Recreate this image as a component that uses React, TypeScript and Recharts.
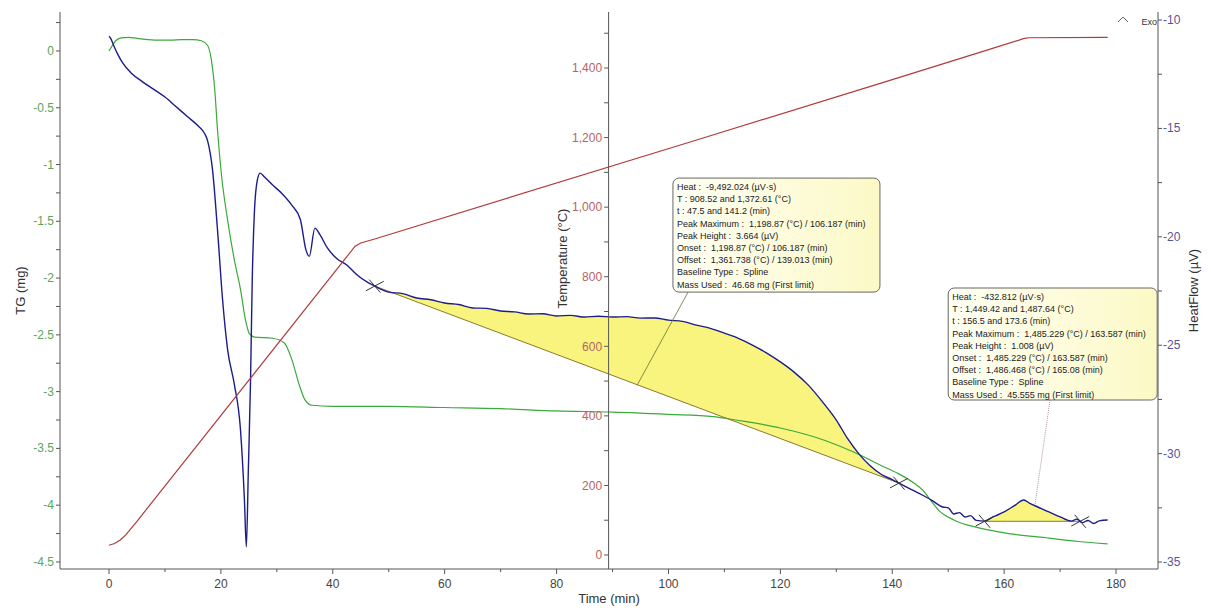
import React from 'react';
import { ComposedChart, Line, Area, XAxis, YAxis, ReferenceLine, ReferenceDot } from 'recharts';

// ---------- ticks ----------
const TIME_TICKS = [0, 10, 20, 30, 40, 50, 60, 70, 80, 90, 100, 110, 120, 130, 140, 150, 160, 170, 180];
const TG_TICKS = [0.25, 0, -0.25, -0.5, -0.75, -1, -1.25, -1.5, -1.75, -2, -2.25, -2.5, -2.75, -3, -3.25, -3.5, -3.75, -4, -4.25, -4.5];
const HF_TICKS = [-10, -12.5, -15, -17.5, -20, -22.5, -25, -27.5, -30, -32.5, -35];
const TEMP_TICKS = [0, 100, 200, 300, 400, 500, 600, 700, 800, 900, 1000, 1100, 1200, 1300, 1400, 1500];

// ---------- series ----------
const TEMP_DATA = [
  { t: 0, temp: 28 }, { t: 1, temp: 33 }, { t: 2, temp: 43 }, { t: 3, temp: 58 }, { t: 4, temp: 77 },
  { t: 5, temp: 97 }, { t: 44, temp: 888 }, { t: 45, temp: 897 }, { t: 47.5, temp: 908.5 },
  { t: 106.2, temp: 1198.9 }, { t: 139, temp: 1361.7 }, { t: 156.5, temp: 1449.4 },
  { t: 163.6, temp: 1485 }, { t: 164.5, temp: 1487 }, { t: 178.5, temp: 1488 },
];

const TG_DATA = [
  { t: 0, tg: 0.0 }, { t: 0.5, tg: 0.04 }, { t: 1.2, tg: 0.09 }, { t: 2.2, tg: 0.115 }, { t: 3.5, tg: 0.12 },
  { t: 5, tg: 0.11 }, { t: 7, tg: 0.1 }, { t: 9, tg: 0.095 }, { t: 11, tg: 0.095 }, { t: 13, tg: 0.1 },
  { t: 15, tg: 0.1 }, { t: 16.5, tg: 0.09 }, { t: 17.6, tg: 0.05 }, { t: 18.3, tg: -0.08 }, { t: 18.9, tg: -0.34 },
  { t: 19.4, tg: -0.7 }, { t: 20.1, tg: -1.09 }, { t: 21.2, tg: -1.49 }, { t: 22.4, tg: -1.84 }, { t: 23.5, tg: -2.1 },
  { t: 24.4, tg: -2.37 }, { t: 25.1, tg: -2.49 }, { t: 26.0, tg: -2.52 }, { t: 29.2, tg: -2.53 }, { t: 31.3, tg: -2.57 },
  { t: 32.7, tg: -2.72 }, { t: 34.0, tg: -2.94 }, { t: 35.0, tg: -3.07 }, { t: 36.3, tg: -3.12 }, { t: 40, tg: -3.13 },
  { t: 50, tg: -3.13 }, { t: 60, tg: -3.14 }, { t: 70, tg: -3.15 }, { t: 80, tg: -3.17 }, { t: 90, tg: -3.18 },
  { t: 100, tg: -3.2 }, { t: 108, tg: -3.22 }, { t: 112, tg: -3.25 }, { t: 120, tg: -3.32 }, { t: 128, tg: -3.43 },
  { t: 133, tg: -3.53 }, { t: 138, tg: -3.65 }, { t: 141, tg: -3.72 }, { t: 144, tg: -3.81 }, { t: 145.5, tg: -3.87 },
  { t: 146.6, tg: -3.94 }, { t: 148.4, tg: -4.05 }, { t: 151, tg: -4.13 }, { t: 155.5, tg: -4.2 }, { t: 160.9, tg: -4.25 },
  { t: 168, tg: -4.29 }, { t: 173.3, tg: -4.32 }, { t: 178.5, tg: -4.34 },
];

const HF_DATA = [
  { t: 0, hf: -10.75 }, { t: 0.3, hf: -10.85 }, { t: 0.8, hf: -11.15 }, { t: 1.5, hf: -11.55 }, { t: 2.5, hf: -12.0 },
  { t: 4, hf: -12.45 }, { t: 6, hf: -12.85 }, { t: 8, hf: -13.2 }, { t: 10, hf: -13.55 }, { t: 12, hf: -14.0 },
  { t: 14, hf: -14.45 }, { t: 16, hf: -14.9 }, { t: 17, hf: -15.2 }, { t: 17.6, hf: -15.55 }, { t: 18.5, hf: -16.9 },
  { t: 19.4, hf: -19.7 }, { t: 20.3, hf: -22.9 }, { t: 21.2, hf: -25.2 }, { t: 22.4, hf: -26.8 }, { t: 23.5, hf: -28.9 },
  { t: 24.2, hf: -32.1 }, { t: 24.55, hf: -34.3 }, { t: 24.9, hf: -30.8 }, { t: 25.3, hf: -26.6 }, { t: 25.6, hf: -22.0 },
  { t: 26.0, hf: -18.8 }, { t: 26.5, hf: -17.4 }, { t: 27.0, hf: -17.06 }, { t: 27.8, hf: -17.24 }, { t: 29.2, hf: -17.6 },
  { t: 30.9, hf: -18.0 }, { t: 32.7, hf: -18.55 }, { t: 34.2, hf: -19.2 }, { t: 35.2, hf: -20.6 }, { t: 35.8, hf: -20.9 },
  { t: 36.8, hf: -19.6 }, { t: 37.7, hf: -19.9 }, { t: 39.0, hf: -20.5 }, { t: 40.7, hf: -21.0 }, { t: 42.5, hf: -21.3 },
  { t: 44.3, hf: -21.75 }, { t: 46.1, hf: -22.08 }, { t: 47.5, hf: -22.27 }, { t: 50, hf: -22.55 }, { t: 52.5, hf: -22.62 },
  { t: 55, hf: -22.82 }, { t: 57.5, hf: -22.9 }, { t: 60, hf: -23.05 }, { t: 62.5, hf: -23.12 }, { t: 65, hf: -23.28 },
  { t: 67.5, hf: -23.3 }, { t: 70, hf: -23.42 }, { t: 72.5, hf: -23.46 }, { t: 75, hf: -23.56 }, { t: 77.5, hf: -23.55 },
  { t: 80, hf: -23.65 }, { t: 82.5, hf: -23.62 }, { t: 85, hf: -23.7 }, { t: 87.5, hf: -23.66 }, { t: 90, hf: -23.7 },
  { t: 92.5, hf: -23.68 }, { t: 95, hf: -23.75 }, { t: 97.5, hf: -23.74 }, { t: 100, hf: -23.84 }, { t: 102.5, hf: -23.9 },
  { t: 105, hf: -24.07 }, { t: 107.5, hf: -24.22 }, { t: 110, hf: -24.44 }, { t: 112.5, hf: -24.68 }, { t: 115, hf: -24.99 },
  { t: 117.5, hf: -25.35 }, { t: 120, hf: -25.77 }, { t: 122.5, hf: -26.25 }, { t: 125, hf: -26.84 }, { t: 127.5, hf: -27.6 },
  { t: 130, hf: -28.45 }, { t: 132, hf: -29.3 }, { t: 134, hf: -30.0 }, { t: 136, hf: -30.55 }, { t: 138, hf: -30.95 },
  { t: 140, hf: -31.2 }, { t: 141.2, hf: -31.36 }, { t: 143, hf: -31.6 }, { t: 145, hf: -31.86 }, { t: 147, hf: -32.14 },
  { t: 149, hf: -32.46 }, { t: 150, hf: -32.5 }, { t: 151, hf: -32.78 }, { t: 152, hf: -32.72 }, { t: 153, hf: -32.92 },
  { t: 154, hf: -32.86 }, { t: 155, hf: -33.08 }, { t: 156.5, hf: -33.11 },
  { t: 158, hf: -32.92 }, { t: 160, hf: -32.69 }, { t: 162, hf: -32.37 }, { t: 163.5, hf: -32.14 }, { t: 164.5, hf: -32.28 },
  { t: 166, hf: -32.46 }, { t: 168, hf: -32.69 }, { t: 170, hf: -32.92 }, { t: 172, hf: -33.11 }, { t: 173, hf: -33.02 },
  { t: 174, hf: -33.18 }, { t: 175, hf: -33.08 }, { t: 176, hf: -33.22 }, { t: 177, hf: -33.1 }, { t: 178.5, hf: -33.06 },
];

// integration baselines (end points)
const PEAK1_BASE = [{ t: 47.5, hf: -22.27 }, { t: 141.2, hf: -31.36 }];
const PEAK2_BASE = [{ t: 156.5, hf: -33.12 }, { t: 173.6, hf: -33.12 }];

const BOX1_LINES = [
  'Heat :  -9,492.024 (µV·s)',
  'T : 908.52 and 1,372.61 (°C)',
  't : 47.5 and 141.2 (min)',
  'Peak Maximum :  1,198.87 (°C) / 106.187 (min)',
  'Peak Height :  3.664 (µV)',
  'Onset :  1,198.87 (°C) / 106.187 (min)',
  'Offset :  1,361.738 (°C) / 139.013 (min)',
  'Baseline Type :  Spline',
  'Mass Used :  46.68 mg (First limit)',
];
const BOX2_LINES = [
  'Heat :  -432.812 (µV·s)',
  'T : 1,449.42 and 1,487.64 (°C)',
  't : 156.5 and 173.6 (min)',
  'Peak Maximum :  1,485.229 (°C) / 163.587 (min)',
  'Peak Height :  1.008 (µV)',
  'Onset :  1,485.229 (°C) / 163.587 (min)',
  'Offset :  1,486.468 (°C) / 165.08 (min)',
  'Baseline Type :  Spline',
  'Mass Used :  45.555 mg (First limit)',
];

// ---------- derived tables for the library ----------
const baseAt = (base: { t: number; hf: number }[], t: number) =>
  base[0].hf + ((t - base[0].t) / (base[1].t - base[0].t)) * (base[1].hf - base[0].hf);
const PEAK1_AREA = HF_DATA.filter((d) => d.t >= PEAK1_BASE[0].t && d.t <= PEAK1_BASE[1].t).map((d) => ({
  t: d.t,
  range: [Math.min(baseAt(PEAK1_BASE, d.t), d.hf), d.hf],
}));
const PEAK2_AREA = HF_DATA.filter((d) => d.t >= PEAK2_BASE[0].t && d.t <= 172).map((d) => ({
  t: d.t,
  range: [Math.min(baseAt(PEAK2_BASE, d.t), d.hf), d.hf],
}));

// ---------- layout / style ----------
const W = 1211;
const H = 608;
const X_DOMAIN: [number, number] = [-8.76, 187.5];
const TG_DOMAIN: [number, number] = [-4.562, 0.343];
const HF_DOMAIN: [number, number] = [-35.32, -9.63];
const TEMP_DOMAIN: [number, number] = [-40.2, 1561];
const TEMP_AXIS_T = 89.3;
const AXIS = '#555';
const GREEN = '#3aaa3a';
const BLUE = '#1c1c8c';
const RED = '#b23a3a';
const YELLOW = '#f8f47e';
const OLIVE = '#8a7a2e';
const TG_LABEL = '#5aa55a';
const HF_LABEL = '#55559a';
const TEMP_LABEL = '#b46464';
const FONT = '"Liberation Sans", Arial, sans-serif';

const TimeTick = (p: any) => {
  const v = p.payload.value;
  const major = v % 20 === 0;
  return (
    <g>
      <line x1={p.x} x2={p.x} y1={p.y} y2={p.y + (major ? 5 : 3)} stroke={AXIS} />
      {major && (
        <text x={p.x} y={p.y + 19} textAnchor="middle" fontSize={12} fill="#444">
          {v}
        </text>
      )}
    </g>
  );
};
const TGTick = (p: any) => {
  const v = p.payload.value;
  const major = Math.abs(v * 2 - Math.round(v * 2)) < 1e-6;
  return (
    <g>
      <line x1={p.x - 4} x2={p.x} y1={p.y} y2={p.y} stroke={AXIS} />
      {major && (
        <text x={p.x - 6} y={p.y + 4} textAnchor="end" fontSize={12} fill={TG_LABEL}>
          {String(v)}
        </text>
      )}
    </g>
  );
};
const HFTick = (p: any) => {
  const v = p.payload.value;
  const major = v % 5 === 0;
  return (
    <g>
      <line x1={p.x} x2={p.x + 4} y1={p.y} y2={p.y} stroke={AXIS} />
      {major && (
        <text x={p.x + 5} y={p.y + 4} textAnchor="start" fontSize={12} fill={HF_LABEL}>
          {String(v)}
        </text>
      )}
    </g>
  );
};

const Callout = ({ vb, lines, w, h, id }: any) => {
  if (!vb) return null;
  const x = vb.x;
  const y = vb.y;
  return (
    <g>
      <defs>
        <linearGradient id={id} x1="0" y1="0" x2="1" y2="0">
          <stop offset="0%" stopColor="#fffff4" />
          <stop offset="100%" stopColor="#fcf9c6" />
        </linearGradient>
      </defs>
      <rect x={x} y={y} width={w} height={h} rx={6} ry={6} fill={`url(#${id})`} stroke="#666" />
      {lines.map((s: string, i: number) => (
        <text key={i} x={x + 4} y={y + 12 + i * 12.2} fontSize={9} fill="#222" style={{ whiteSpace: 'pre' }}>
          {s}
        </text>
      ))}
    </g>
  );
};

const crossMarks = (t: number, hf: number, key: string) => [
  <ReferenceLine
    key={key + 'a'}
    yAxisId="hf"
    segment={[{ x: t - 1.6, y: hf - 0.22 }, { x: t + 1.6, y: hf + 0.22 }]}
    stroke="#333"
    ifOverflow="visible"
  />,
  <ReferenceLine
    key={key + 'b'}
    yAxisId="hf"
    segment={[{ x: t - 1.0, y: hf + 0.3 }, { x: t + 1.0, y: hf - 0.3 }]}
    stroke="#333"
    ifOverflow="visible"
  />,
];

export default function App() {
  return (
    <div style={{ position: 'absolute', left: 0, top: 0, width: W, height: H, fontFamily: FONT, background: '#fff' }}>
      <ComposedChart width={W} height={H} margin={{ top: 12, right: 0, bottom: 0, left: 0 }}>
        <XAxis
          type="number"
          dataKey="t"
          domain={X_DOMAIN}
          allowDataOverflow
          ticks={TIME_TICKS}
          interval={0}
          tick={(p: any) => <TimeTick {...p} />}
          tickLine={false}
          tickSize={0}
          tickMargin={0}
          axisLine={{ stroke: AXIS }}
          height={39}
          label={{ value: 'Time (min)', position: 'insideBottom', offset: 5, fill: '#333', fontSize: 13 }}
        />
        <YAxis
          yAxisId="tg"
          orientation="left"
          type="number"
          domain={TG_DOMAIN}
          allowDataOverflow
          ticks={TG_TICKS}
          interval={0}
          tick={(p: any) => <TGTick {...p} />}
          tickLine={false}
          tickSize={0}
          tickMargin={0}
          axisLine={{ stroke: AXIS }}
          width={60}
          label={{ value: 'TG (mg)', angle: -90, position: 'insideLeft', offset: 20, fill: '#333', fontSize: 13, style: { textAnchor: 'middle' } }}
        />
        <YAxis
          yAxisId="hf"
          orientation="right"
          type="number"
          domain={HF_DOMAIN}
          allowDataOverflow
          ticks={HF_TICKS}
          interval={0}
          tick={(p: any) => <HFTick {...p} />}
          tickLine={false}
          tickSize={0}
          tickMargin={0}
          axisLine={{ stroke: AXIS }}
          width={53}
          label={{ value: 'HeatFlow (µV)', angle: -90, position: 'insideRight', offset: 18, fill: '#333', fontSize: 13, style: { textAnchor: 'middle' } }}
        />
        <YAxis yAxisId="temp" hide width={0} type="number" domain={TEMP_DOMAIN} allowDataOverflow />

        <Line data={TG_DATA} dataKey="tg" yAxisId="tg" stroke={GREEN} strokeWidth={1.2} dot={false} type="monotoneX" isAnimationActive={false} />

        <Area data={PEAK1_AREA} dataKey="range" yAxisId="hf" fill={YELLOW} fillOpacity={1} stroke="none" type="monotoneX" isAnimationActive={false} />
        <Area data={PEAK2_AREA} dataKey="range" yAxisId="hf" fill={YELLOW} fillOpacity={1} stroke="none" type="monotoneX" isAnimationActive={false} />
        <Line data={PEAK1_BASE} dataKey="hf" yAxisId="hf" stroke={OLIVE} strokeWidth={1} dot={false} type="linear" isAnimationActive={false} />
        <Line data={PEAK2_BASE} dataKey="hf" yAxisId="hf" stroke={OLIVE} strokeWidth={1} dot={false} type="linear" isAnimationActive={false} />

        <Line data={HF_DATA} dataKey="hf" yAxisId="hf" stroke={BLUE} strokeWidth={1.4} dot={false} type="monotoneX" isAnimationActive={false} />
        <Line data={TEMP_DATA} dataKey="temp" yAxisId="temp" stroke={RED} strokeWidth={1.2} dot={false} type="linear" isAnimationActive={false} />

        {/* temperature axis in the middle of the plot */}
        <ReferenceLine
          yAxisId="temp"
          x={TEMP_AXIS_T}
          stroke={AXIS}
          label={{
            content: (p: any) =>
              p.viewBox ? (
                <text
                  x={p.viewBox.x - 46}
                  y={p.viewBox.y + p.viewBox.height / 2 - 32}
                  transform={`rotate(-90, ${p.viewBox.x - 46}, ${p.viewBox.y + p.viewBox.height / 2 - 32})`}
                  textAnchor="middle"
                  dominantBaseline="central"
                  fontSize={13}
                  fill="#333"
                >
                  Temperature (°C)
                </text>
              ) : null,
          }}
        />
        {TEMP_TICKS.map((v) => (
          <ReferenceLine
            key={'tt' + v}
            yAxisId="temp"
            segment={[{ x: TEMP_AXIS_T - 0.8, y: v }, { x: TEMP_AXIS_T, y: v }]}
            stroke={AXIS}
            label={v % 200 === 0 ? { value: v.toLocaleString('en-US'), position: 'left', offset: 2, fill: TEMP_LABEL, fontSize: 12 } : undefined}
          />
        ))}

        {crossMarks(PEAK1_BASE[0].t, PEAK1_BASE[0].hf, 'c1')}
        {crossMarks(PEAK1_BASE[1].t, PEAK1_BASE[1].hf, 'c2')}
        {crossMarks(PEAK2_BASE[0].t, PEAK2_BASE[0].hf, 'c3')}
        {crossMarks(PEAK2_BASE[1].t, PEAK2_BASE[1].hf, 'c4')}

        {/* leader lines of the callouts */}
        <ReferenceLine yAxisId="hf" segment={[{ x: 103.5, y: -22.55 }, { x: 94.4, y: -26.84 }]} stroke="#6e6a3c" strokeWidth={0.8} />
        <ReferenceLine yAxisId="hf" segment={[{ x: 168.2, y: -27.53 }, { x: 165.5, y: -32.37 }]} stroke="#a07888" strokeWidth={0.8} strokeDasharray="1 1" />

        <ReferenceDot
          yAxisId="hf"
          x={100.8}
          y={-17.29}
          r={0}
          fill="none"
          stroke="none"
          label={{ content: (p: any) => <Callout vb={p.viewBox} lines={BOX1_LINES} w={207} h={114} id="cg1" /> }}
        />
        <ReferenceDot
          yAxisId="hf"
          x={150.0}
          y={-22.36}
          r={0}
          fill="none"
          stroke="none"
          label={{ content: (p: any) => <Callout vb={p.viewBox} lines={BOX2_LINES} w={209} h={112} id="cg2" /> }}
        />

        {/* Exo marker */}
        <ReferenceDot
          yAxisId="hf"
          x={X_DOMAIN[1]}
          y={HF_DOMAIN[1]}
          r={0}
          fill="none"
          stroke="none"
          ifOverflow="visible"
          label={{
            content: (p: any) =>
              p.viewBox ? (
                <g>
                  <polyline
                    points={`${p.viewBox.x - 40},${p.viewBox.y + 10} ${p.viewBox.x - 35},${p.viewBox.y + 5} ${p.viewBox.x - 30},${p.viewBox.y + 10}`}
                    fill="none"
                    stroke="#666"
                  />
                  <text x={p.viewBox.x - 1} y={p.viewBox.y + 13} textAnchor="end" fontSize={9} fill="#333">
                    Exo
                  </text>
                </g>
              ) : null,
          }}
        />
      </ComposedChart>
    </div>
  );
}
